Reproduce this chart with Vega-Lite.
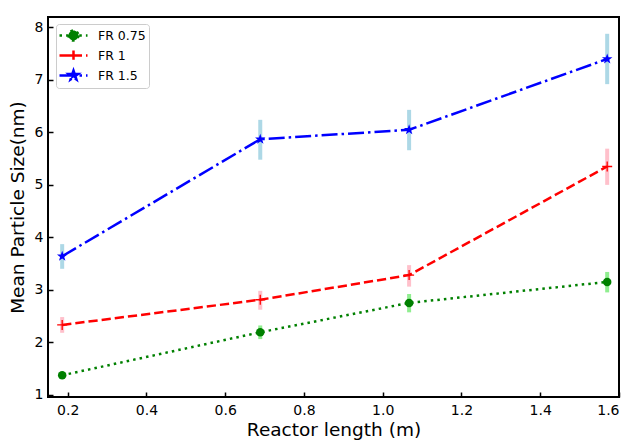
{
  "$schema": "https://vega.github.io/schema/vega-lite/v6.json",
  "autosize": "none",
  "width": 571,
  "height": 380,
  "padding": {"left": 48, "top": 17, "right": 13, "bottom": 43},
  "background": "white",
  "config": {
    "font": "DejaVu Sans",
    "view": {"stroke": "black", "strokeWidth": 2},
    "axis": {
      "grid": false,
      "domain": false,
      "tickColor": "black",
      "tickWidth": 1.5,
      "tickSize": -5,
      "labelColor": "black",
      "labelFont": "DejaVu Sans",
      "labelFontSize": 14,
      "titleFont": "DejaVu Sans",
      "titleFontSize": 18.5,
      "titleFontWeight": "normal",
      "titleColor": "black"
    }
  },
  "data": {
    "values": [
      {"series": "FR 0.75", "x": 0.186, "y": 1.37, "lo": 1.33, "hi": 1.41},
      {"series": "FR 0.75", "x": 0.689, "y": 2.19, "lo": 2.06, "hi": 2.32},
      {"series": "FR 0.75", "x": 1.067, "y": 2.75, "lo": 2.57, "hi": 2.92},
      {"series": "FR 0.75", "x": 1.57, "y": 3.15, "lo": 2.95, "hi": 3.34},
      {"series": "FR 1", "x": 0.186, "y": 2.33, "lo": 2.18, "hi": 2.48},
      {"series": "FR 1", "x": 0.689, "y": 2.81, "lo": 2.62, "hi": 2.98},
      {"series": "FR 1", "x": 1.067, "y": 3.28, "lo": 3.06, "hi": 3.47},
      {"series": "FR 1", "x": 1.57, "y": 5.35, "lo": 5.0, "hi": 5.69},
      {"series": "FR 1.5", "x": 0.186, "y": 3.64, "lo": 3.4, "hi": 3.87},
      {"series": "FR 1.5", "x": 0.689, "y": 5.87, "lo": 5.48, "hi": 6.24},
      {"series": "FR 1.5", "x": 1.067, "y": 6.05, "lo": 5.66, "hi": 6.43},
      {"series": "FR 1.5", "x": 1.57, "y": 7.4, "lo": 6.92, "hi": 7.88}
    ]
  },
  "encoding": {
    "x": {
      "field": "x", "type": "quantitative",
      "scale": {"domain": [0.15, 1.6], "nice": false, "zero": false},
      "axis": {"values": [0.2, 0.4, 0.6, 0.8, 1.0, 1.2, 1.4, 1.6], "format": ".1f", "title": "Reactor length (m)", "labelPadding": 11, "titlePadding": 3}
    },
    "y": {
      "field": "y", "type": "quantitative",
      "scale": {"domain": [0.956, 8.2], "nice": false, "zero": false},
      "axis": {"values": [1, 2, 3, 4, 5, 6, 7, 8], "format": "d", "title": "Mean Particle Size(nm)", "labelPadding": 10, "titlePadding": 7}
    }
  },
  "layer": [
    {
      "transform": [{"filter": "datum.series === 'FR 0.75'"}],
      "mark": {"type": "rule", "color": "#90ee90", "strokeWidth": 4},
      "encoding": {"y": {"field": "lo", "type": "quantitative"}, "y2": {"field": "hi"}}
    },
    {
      "transform": [{"filter": "datum.series === 'FR 1'"}],
      "mark": {"type": "rule", "color": "#ffc0cb", "strokeWidth": 4},
      "encoding": {"y": {"field": "lo", "type": "quantitative"}, "y2": {"field": "hi"}}
    },
    {
      "transform": [{"filter": "datum.series === 'FR 1.5'"}],
      "mark": {"type": "rule", "color": "#add8e6", "strokeWidth": 4},
      "encoding": {"y": {"field": "lo", "type": "quantitative"}, "y2": {"field": "hi"}}
    },
    {
      "mark": {"type": "line", "strokeWidth": 2.5},
      "encoding": {
        "color": {
          "field": "series", "type": "nominal",
          "scale": {"domain": ["FR 0.75", "FR 1", "FR 1.5"], "range": ["#008000", "#ff0000", "#0000ff"]},
          "legend": {
            "title": null,
            "orient": "none",
            "legendX": 8,
            "legendY": 7,
            "fillColor": "rgba(255,255,255,0.8)",
            "strokeColor": "#cccccc",
            "cornerRadius": 3,
            "padding": 3,
            "rowPadding": -1,
            "symbolSize": 196,
            "symbolOffset": 6,
            "labelOffset": 16,
            "labelFontSize": 12.5,
            "labelFont": "DejaVu Sans",
            "labelColor": "black",
            "encode": {
              "symbols": {
                "update": {
                  "shape": {"signal": "datum.value === 'FR 0.75' ? 'M-2,0L2,0M0.71,0A0.71,0.71 0 1,1 -0.71,0A0.71,0.71 0 1,1 0.71,0Z' : datum.value === 'FR 1' ? 'M-2,0L2,0M-0.71,0L0.71,0M0,-0.71L0,0.71' : 'M-2,0L2,0M0,-0.71L0.167,-0.23L0.675,-0.219L0.27,0.088L0.417,0.574L0,0.284L-0.417,0.574L-0.27,0.088L-0.675,-0.219L-0.167,-0.23Z'"},
                  "size": {"value": 196},
                  "fill": {"signal": "datum.value === 'FR 0.75' ? '#008000' : datum.value === 'FR 1' ? 'transparent' : '#0000ff'"},
                  "stroke": {"signal": "datum.value === 'FR 0.75' ? '#008000' : datum.value === 'FR 1' ? '#ff0000' : '#0000ff'"},
                  "strokeDash": {"signal": "datum.value === 'FR 0.75' ? [2.5, 4.1] : datum.value === 'FR 1' ? [9.25, 4] : [16, 4, 2.5, 4]"},
                  "strokeWidth": {"value": 2.5},
                  "opacity": {"value": 1}
                }
              }
            }
          }
        },
        "strokeDash": {
          "field": "series", "type": "nominal",
          "scale": {"domain": ["FR 0.75", "FR 1", "FR 1.5"], "range": [[2.5, 4.1], [9.25, 4], [16, 4, 2.5, 4]]},
          "legend": null
        }
      }
    },
    {
      "transform": [{"filter": "datum.series === 'FR 0.75'"}],
      "mark": {"type": "point", "shape": "circle", "filled": true, "color": "#008000", "opacity": 1, "size": 72}
    },
    {
      "transform": [{"filter": "datum.series === 'FR 1'"}],
      "mark": {"type": "point", "shape": "M-1,0L1,0M0,-1L0,1", "filled": false, "color": "#ff0000", "opacity": 1, "size": 100, "strokeWidth": 1.3}
    },
    {
      "transform": [{"filter": "datum.series === 'FR 1.5'"}],
      "mark": {"type": "point", "shape": "M0,-1L0.235,-0.324L0.951,-0.309L0.38,0.124L0.588,0.809L0,0.4L-0.588,0.809L-0.38,0.124L-0.951,-0.309L-0.235,-0.324Z", "filled": true, "color": "#0000ff", "opacity": 1, "size": 120}
    }
  ]
}
